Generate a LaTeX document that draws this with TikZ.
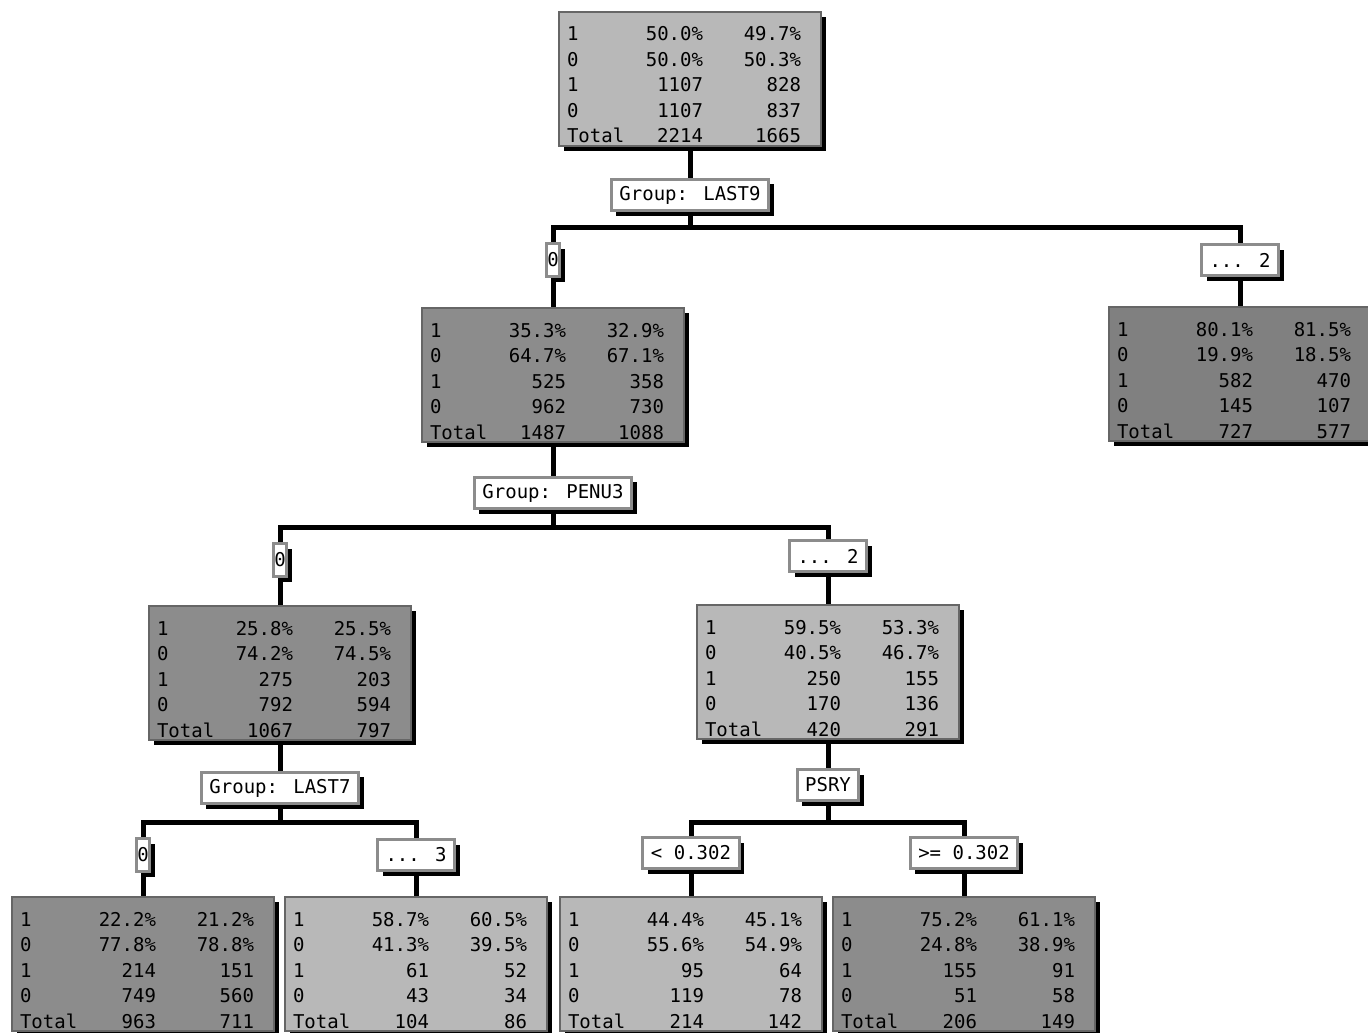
\documentclass[tikz,border=0pt]{standalone}
\usepackage{fontspec}
\usepackage{array}
\usetikzlibrary{shadows,backgrounds}
\newfontfamily\treefont{DejaVu Sans Mono}
\definecolor{palebox}{gray}{0.72}
\definecolor{darkbox}{gray}{0.55}
\definecolor{deepbox}{gray}{0.50}
\newcommand{\stats}[1]{\begin{tabular}[t]{@{\hspace{4pt}}p{30pt}@{}>{\raggedleft}p{38pt}@{}>{\raggedleft\arraybackslash}p{49pt}@{\hspace{10pt}}}#1\end{tabular}}
\tikzset{
	base/.style={font=\treefont\fontsize{9.5}{12.75}\selectfont, drop shadow={shadow xshift=2.5pt, shadow yshift=-2.5pt, fill=black, opacity=1}},
	stat/.style={base, rectangle, draw=black!60, line width=0.8pt, inner sep=0pt, minimum width=131pt, text height=14.5pt, text depth=52.5pt},
	split/.style={base, rectangle, fill=white, draw=black!45, line width=1.5pt, inner xsep=4pt, minimum height=15.5pt},
	narrow/.style={split, inner xsep=0.5pt, minimum height=16.5pt},
	link/.style={line width=2.5pt}
}
\begin{document}
\begin{tikzpicture}[x=0.5pt,y=-0.5pt]
	\useasboundingbox (0,0) rectangle (1368,1032);
	\node[stat,fill=palebox] (root) at (690,79) {\stats{1 & 50.0\% & 49.7\%\\ 0 & 50.0\% & 50.3\%\\ 1 & 1107 & 828\\ 0 & 1107 & 837\\ Total & 2214 & 1665}};
	\node[split] (grpLast9) at (690,195) {Group: LAST9};
	\coordinate (bar1) at (690,227);
	\node[narrow] (cut0a) at (553,260) {0};
	\node[split] (cut2a) at (1240,260) {... 2};
	\node[stat,fill=darkbox] (nodeL) at (553,375) {\stats{1 & 35.3\% & 32.9\%\\ 0 & 64.7\% & 67.1\%\\ 1 & 525 & 358\\ 0 & 962 & 730\\ Total & 1487 & 1088}};
	\node[stat,fill=deepbox] (nodeR) at (1240,374) {\stats{1 & 80.1\% & 81.5\%\\ 0 & 19.9\% & 18.5\%\\ 1 & 582 & 470\\ 0 & 145 & 107\\ Total & 727 & 577}};
	\node[split] (grpPenu3) at (553,493) {Group: PENU3};
	\coordinate (bar2) at (553,527);
	\node[narrow] (cut0b) at (280,560) {0};
	\node[split] (cut2b) at (828,556) {... 2};
	\node[stat,fill=darkbox] (nodeLL) at (280,673) {\stats{1 & 25.8\% & 25.5\%\\ 0 & 74.2\% & 74.5\%\\ 1 & 275 & 203\\ 0 & 792 & 594\\ Total & 1067 & 797}};
	\node[stat,fill=palebox] (nodeLR) at (828,672) {\stats{1 & 59.5\% & 53.3\%\\ 0 & 40.5\% & 46.7\%\\ 1 & 250 & 155\\ 0 & 170 & 136\\ Total & 420 & 291}};
	\node[split] (grpLast7) at (280,788) {Group: LAST7};
	\node[split] (psry) at (828,785) {PSRY};
	\coordinate (bar3) at (280,822);
	\coordinate (bar4) at (828,822);
	\node[narrow] (cut0c) at (143,855) {0};
	\node[split] (cut3c) at (416,855) {... 3};
	\node[split] (cutLo) at (691,853) {< 0.302};
	\node[split] (cutHi) at (964,853) {>= 0.302};
	\node[stat,fill=darkbox] (leaf1) at (143,964) {\stats{1 & 22.2\% & 21.2\%\\ 0 & 77.8\% & 78.8\%\\ 1 & 214 & 151\\ 0 & 749 & 560\\ Total & 963 & 711}};
	\node[stat,fill=palebox] (leaf2) at (416,964) {\stats{1 & 58.7\% & 60.5\%\\ 0 & 41.3\% & 39.5\%\\ 1 & 61 & 52\\ 0 & 43 & 34\\ Total & 104 & 86}};
	\node[stat,fill=palebox] (leaf3) at (691,964) {\stats{1 & 44.4\% & 45.1\%\\ 0 & 55.6\% & 54.9\%\\ 1 & 95 & 64\\ 0 & 119 & 78\\ Total & 214 & 142}};
	\node[stat,fill=darkbox] (leaf4) at (964,964) {\stats{1 & 75.2\% & 61.1\%\\ 0 & 24.8\% & 38.9\%\\ 1 & 155 & 91\\ 0 & 51 & 58\\ Total & 206 & 149}};
	\begin{scope}[on background layer]
		\draw[link] (root) -- (grpLast9) -- (bar1);
		\draw[link] (bar1) -| (cut0a);
		\draw[link] (bar1) -| (cut2a);
		\draw[link] (cut0a) -- (nodeL);
		\draw[link] (cut2a) -- (nodeR);
		\draw[link] (nodeL) -- (grpPenu3) -- (bar2);
		\draw[link] (bar2) -| (cut0b);
		\draw[link] (bar2) -| (cut2b);
		\draw[link] (cut0b) -- (nodeLL);
		\draw[link] (cut2b) -- (nodeLR);
		\draw[link] (nodeLL) -- (grpLast7) -- (bar3);
		\draw[link] (nodeLR) -- (psry) -- (bar4);
		\draw[link] (bar3) -| (cut0c);
		\draw[link] (bar3) -| (cut3c);
		\draw[link] (bar4) -| (cutLo);
		\draw[link] (bar4) -| (cutHi);
		\draw[link] (cut0c) -- (leaf1);
		\draw[link] (cut3c) -- (leaf2);
		\draw[link] (cutLo) -- (leaf3);
		\draw[link] (cutHi) -- (leaf4);
	\end{scope}
\end{tikzpicture}
\end{document}
